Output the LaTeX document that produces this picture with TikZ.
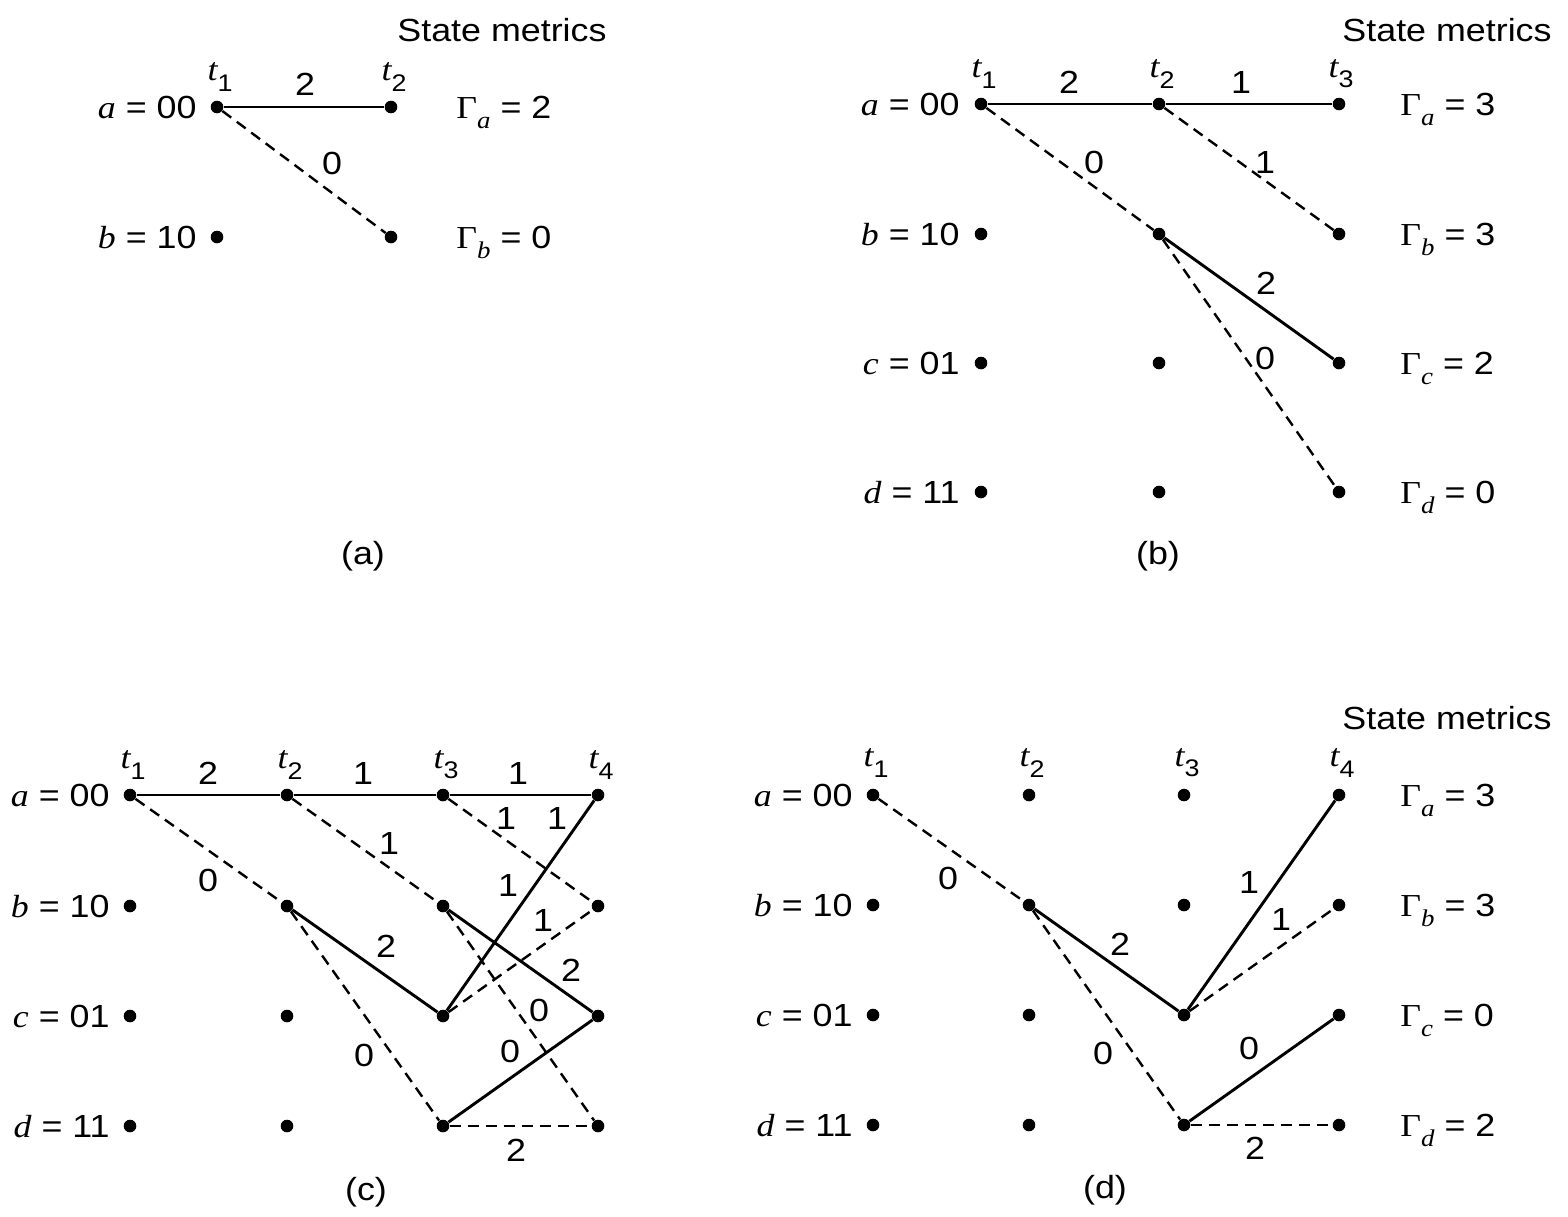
\documentclass[tikz,border=0pt]{standalone}
\usepackage{fontspec}
\setmainfont{Liberation Sans}[FakeStretch=1.12]
\newfontfamily\serifit{Liberation Serif}[FakeStretch=1.12]
\newcommand\vi[1]{{\serifit\itshape #1}}
\newcommand\sbs[1]{\raisebox{-0.6ex}{\fontsize{12}{13}\selectfont #1}}
\newcommand\tlab[1]{\vi{t}\sbs{#1}}
\newcommand\gam[2]{{\serifit Γ}\sbs{\vi{#1}} = #2}
\begin{document}
\begin{tikzpicture}[x=0.5pt,y=-0.5pt,
  font=\fontsize{16}{19}\selectfont,
  dot/.style={circle,fill,inner sep=0pt,minimum size=6.3pt},
  edge/.style={line width=1.45pt},
  dsh/.style={line width=1.2pt,dash pattern=on 5.5pt off 3.5pt},
  lab/.style={inner sep=0pt},
  stl/.style={anchor=base east,inner sep=0pt},
  gl/.style={anchor=base west,inner sep=0pt}]
\useasboundingbox[fill=white] (0,0) rectangle (1568,1216);

% ---------------- panel (a) ----------------
\node[dot] (aA1) at (217,107) {};
\node[dot] (aA2) at (391,107) {};
\node[dot] (aB1) at (217,237) {};
\node[dot] (aB2) at (391,237) {};
\draw[edge] (aA1) -- (aA2);
\draw[dsh] (aA1) -- (aB2);
\node[stl] (aLa) at (197,118) {\vi{a} = 00};
\node[stl] (aLb) at (197,248) {\vi{b} = 10};
\node[lab] (aT1) at (220,77) {\tlab{1}};
\node[lab] (aT2) at (394,77) {\tlab{2}};
\node[lab] (aE1) at (305,84) {2};
\node[lab] (aE2) at (332,163) {0};
\node[gl] (aGa) at (456,118) {\gam{a}{2}};
\node[gl] (aGb) at (456,248) {\gam{b}{0}};
\node[lab] (aSM) at (502,30) {State metrics};
\node[lab] (aCap) at (363,556) {(a)};

% ---------------- panel (b) ----------------
\node[dot] (bA1) at (981,104) {};
\node[dot] (bA2) at (1159,104) {};
\node[dot] (bA3) at (1339,104) {};
\node[dot] (bB1) at (981,234) {};
\node[dot] (bB2) at (1159,234) {};
\node[dot] (bB3) at (1339,234) {};
\node[dot] (bC1) at (981,363) {};
\node[dot] (bC2) at (1159,363) {};
\node[dot] (bC3) at (1339,363) {};
\node[dot] (bD1) at (981,492) {};
\node[dot] (bD2) at (1159,492) {};
\node[dot] (bD3) at (1339,492) {};
\draw[edge] (bA1) -- (bA2);
\draw[edge] (bA2) -- (bA3);
\draw[dsh] (bA1) -- (bB2);
\draw[dsh] (bA2) -- (bB3);
\draw[edge] (bB2) -- (bC3);
\draw[dsh] (bB2) -- (bD3);
\node[stl] (bLa) at (960,115) {\vi{a} = 00};
\node[stl] (bLb) at (960,245) {\vi{b} = 10};
\node[stl] (bLc) at (960,374) {\vi{c} = 01};
\node[stl] (bLd) at (960,503) {\vi{d} = 11};
\node[lab] (bT1) at (984,74) {\tlab{1}};
\node[lab] (bT2) at (1162,74) {\tlab{2}};
\node[lab] (bT3) at (1341,74) {\tlab{3}};
\node[lab] (bE1) at (1069,82) {2};
\node[lab] (bE2) at (1241,82) {1};
\node[lab] (bE3) at (1094,162) {0};
\node[lab] (bE4) at (1265,162) {1};
\node[lab] (bE5) at (1266,283) {2};
\node[lab] (bE6) at (1265,358) {0};
\node[gl] (bGa) at (1400,115) {\gam{a}{3}};
\node[gl] (bGb) at (1400,245) {\gam{b}{3}};
\node[gl] (bGc) at (1400,374) {\gam{c}{2}};
\node[gl] (bGd) at (1400,503) {\gam{d}{0}};
\node[lab] (bSM) at (1447,30) {State metrics};
\node[lab] (bCap) at (1158,556) {(b)};

% ---------------- panel (c) ----------------
\node[dot] (cA1) at (130,795) {};
\node[dot] (cA2) at (287,795) {};
\node[dot] (cA3) at (443,795) {};
\node[dot] (cA4) at (598,795) {};
\node[dot] (cB1) at (130,906) {};
\node[dot] (cB2) at (287,906) {};
\node[dot] (cB3) at (443,906) {};
\node[dot] (cB4) at (598,906) {};
\node[dot] (cC1) at (130,1016) {};
\node[dot] (cC2) at (287,1016) {};
\node[dot] (cC3) at (443,1016) {};
\node[dot] (cC4) at (598,1016) {};
\node[dot] (cD1) at (130,1126) {};
\node[dot] (cD2) at (287,1126) {};
\node[dot] (cD3) at (443,1126) {};
\node[dot] (cD4) at (598,1126) {};
\draw[edge] (cA1) -- (cA2);
\draw[edge] (cA2) -- (cA3);
\draw[edge] (cA3) -- (cA4);
\draw[dsh] (cA1) -- (cB2);
\draw[dsh] (cA2) -- (cB3);
\draw[dsh] (cA3) -- (cB4);
\draw[edge] (cB2) -- (cC3);
\draw[dsh] (cB2) -- (cD3);
\draw[edge] (cB3) -- (cC4);
\draw[dsh] (cB3) -- (cD4);
\draw[edge] (cC3) -- (cA4);
\draw[dsh] (cC3) -- (cB4);
\draw[edge] (cD3) -- (cC4);
\draw[dsh] (cD3) -- (cD4);
\node[stl] (cLa) at (110,806) {\vi{a} = 00};
\node[stl] (cLb) at (110,917) {\vi{b} = 10};
\node[stl] (cLc) at (110,1027) {\vi{c} = 01};
\node[stl] (cLd) at (110,1137) {\vi{d} = 11};
\node[lab] (cT1) at (133,765) {\tlab{1}};
\node[lab] (cT2) at (290,765) {\tlab{2}};
\node[lab] (cT3) at (446,765) {\tlab{3}};
\node[lab] (cT4) at (601,765) {\tlab{4}};
\node[lab] (cE1) at (208,773) {2};
\node[lab] (cE2) at (363,773) {1};
\node[lab] (cE3) at (518,773) {1};
\node[lab] (cE4) at (506,818) {1};
\node[lab] (cE5) at (557,818) {1};
\node[lab] (cE6) at (389,843) {1};
\node[lab] (cE7) at (208,880) {0};
\node[lab] (cE8) at (508,885) {1};
\node[lab] (cE9) at (543,920) {1};
\node[lab] (cE10) at (386,946) {2};
\node[lab] (cE11) at (571,970) {2};
\node[lab] (cE12) at (539,1010) {0};
\node[lab] (cE13) at (364,1055) {0};
\node[lab] (cE14) at (510,1051) {0};
\node[lab] (cE15) at (516,1150) {2};
\node[lab] (cCap) at (366,1192) {(c)};

% ---------------- panel (d) ----------------
\node[dot] (dA1) at (873,795) {};
\node[dot] (dA2) at (1029,795) {};
\node[dot] (dA3) at (1184,795) {};
\node[dot] (dA4) at (1339,795) {};
\node[dot] (dB1) at (873,905) {};
\node[dot] (dB2) at (1029,905) {};
\node[dot] (dB3) at (1184,905) {};
\node[dot] (dB4) at (1339,905) {};
\node[dot] (dC1) at (873,1015) {};
\node[dot] (dC2) at (1029,1015) {};
\node[dot] (dC3) at (1184,1015) {};
\node[dot] (dC4) at (1339,1015) {};
\node[dot] (dD1) at (873,1125) {};
\node[dot] (dD2) at (1029,1125) {};
\node[dot] (dD3) at (1184,1125) {};
\node[dot] (dD4) at (1339,1125) {};
\draw[dsh] (dA1) -- (dB2);
\draw[edge] (dB2) -- (dC3);
\draw[dsh] (dB2) -- (dD3);
\draw[edge] (dC3) -- (dA4);
\draw[dsh] (dC3) -- (dB4);
\draw[edge] (dD3) -- (dC4);
\draw[dsh] (dD3) -- (dD4);
\node[stl] (dLa) at (853,806) {\vi{a} = 00};
\node[stl] (dLb) at (853,916) {\vi{b} = 10};
\node[stl] (dLc) at (853,1026) {\vi{c} = 01};
\node[stl] (dLd) at (853,1136) {\vi{d} = 11};
\node[lab] (dT1) at (876,763) {\tlab{1}};
\node[lab] (dT2) at (1032,763) {\tlab{2}};
\node[lab] (dT3) at (1187,763) {\tlab{3}};
\node[lab] (dT4) at (1342,763) {\tlab{4}};
\node[lab] (dE1) at (948,878) {0};
\node[lab] (dE2) at (1120,944) {2};
\node[lab] (dE3) at (1103,1053) {0};
\node[lab] (dE4) at (1249,882) {1};
\node[lab] (dE5) at (1281,919) {1};
\node[lab] (dE6) at (1249,1048) {0};
\node[lab] (dE7) at (1255,1148) {2};
\node[gl] (dGa) at (1400,806) {\gam{a}{3}};
\node[gl] (dGb) at (1400,916) {\gam{b}{3}};
\node[gl] (dGc) at (1400,1026) {\gam{c}{0}};
\node[gl] (dGd) at (1400,1136) {\gam{d}{2}};
\node[lab] (dSM) at (1447,718) {State metrics};
\node[lab] (dCap) at (1105,1190) {(d)};
\end{tikzpicture}
\end{document}
